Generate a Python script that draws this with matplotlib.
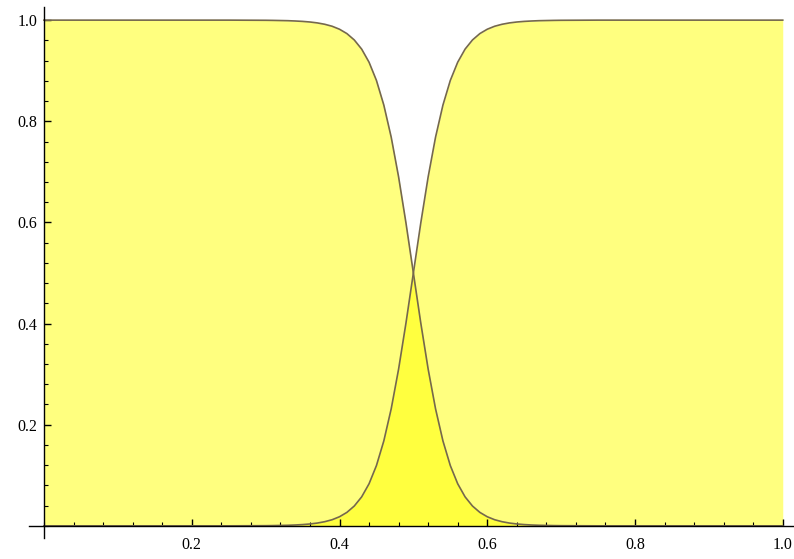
import matplotlib.pyplot as plt
from matplotlib.ticker import MultipleLocator

# sample points
x = [0.0, 0.1, 0.2, 0.25,
     0.30, 0.31, 0.32, 0.33, 0.34, 0.35, 0.36, 0.37, 0.38, 0.39,
     0.40, 0.41, 0.42, 0.43, 0.44, 0.45, 0.46, 0.47, 0.48, 0.49,
     0.50, 0.51, 0.52, 0.53, 0.54, 0.55, 0.56, 0.57, 0.58, 0.59,
     0.60, 0.61, 0.62, 0.63, 0.64, 0.65, 0.66, 0.67, 0.68, 0.69,
     0.70, 0.75, 0.8, 0.9, 1.0]

rise = [0.0, 0.0, 0.0, 0.0,
        0.0003, 0.0005, 0.0008, 0.0011, 0.0017, 0.0025, 0.0037, 0.0055, 0.0082, 0.0121,
        0.0180, 0.0266, 0.0392, 0.0573, 0.0832, 0.1192, 0.1680, 0.2315, 0.3100, 0.4013,
        0.5000, 0.5987, 0.6900, 0.7685, 0.8320, 0.8808, 0.9168, 0.9427, 0.9608, 0.9734,
        0.9820, 0.9879, 0.9918, 0.9945, 0.9963, 0.9975, 0.9983, 0.9989, 0.9992, 0.9995,
        0.9997, 1.0, 1.0, 1.0, 1.0]

fall = [1.0, 1.0, 1.0, 1.0,
        0.9997, 0.9995, 0.9992, 0.9989, 0.9983, 0.9975, 0.9963, 0.9945, 0.9918, 0.9879,
        0.9820, 0.9734, 0.9608, 0.9427, 0.9168, 0.8808, 0.8320, 0.7685, 0.6900, 0.5987,
        0.5000, 0.4013, 0.3100, 0.2315, 0.1680, 0.1192, 0.0832, 0.0573, 0.0392, 0.0266,
        0.0180, 0.0121, 0.0082, 0.0055, 0.0037, 0.0025, 0.0017, 0.0011, 0.0008, 0.0005,
        0.0003, 0.0, 0.0, 0.0, 0.0]

plt.rcParams['font.family'] = ['Liberation Serif', 'DejaVu Serif']

fig = plt.figure(figsize=(7.94, 5.59), dpi=100)
ax = fig.add_axes([0.0368, 0.0376, 0.963, 0.949])

fill_col = '#ffff00'
line_col = '#75684c'
ax.fill_between(x, 0, fall, color=fill_col, alpha=0.5, lw=0)
ax.fill_between(x, 0, rise, color=fill_col, alpha=0.5, lw=0)
ax.plot(x, fall, color=line_col, lw=1.2)
ax.plot(x, rise, color=line_col, lw=1.2)

ax.set_xlim(-0.02, 1.015)
ax.set_ylim(-0.024, 1.025)

for s in ['top', 'right']:
    ax.spines[s].set_visible(False)
ax.spines['left'].set_position(('data', 0))
ax.spines['bottom'].set_position(('data', 0))
ax.spines['left'].set_linewidth(1.0)
ax.spines['bottom'].set_linewidth(1.0)

ax.set_xticks([0.2, 0.4, 0.6, 0.8, 1.0])
ax.set_yticks([0.2, 0.4, 0.6, 0.8, 1.0])
ax.xaxis.set_minor_locator(MultipleLocator(0.04))
ax.yaxis.set_minor_locator(MultipleLocator(0.04))
ax.tick_params(which='major', direction='in', length=5, width=1, labelsize=11.5)
ax.tick_params(axis='x', which='major', pad=8)
ax.tick_params(axis='y', which='major', pad=5)
ax.tick_params(which='minor', direction='in', length=3, width=0.8)

plt.savefig('out.png', dpi=100)
